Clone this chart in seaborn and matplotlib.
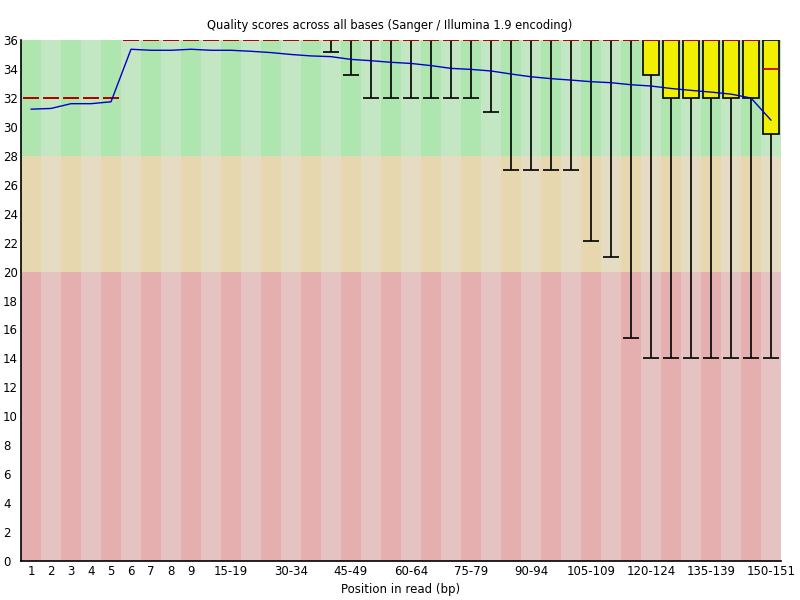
import matplotlib
matplotlib.use("Agg")
import matplotlib.pyplot as plt
import seaborn as sns
import numpy as np
import pandas as pd

sns.set_theme(style="white")
plt.rcParams['font.family'] = ['DejaVu Sans']
plt.rcParams['text.color'] = 'black'
plt.rcParams['xtick.color'] = 'black'
plt.rcParams['ytick.color'] = 'black'

categories = ["1", "2", "3", "4", "5", "6", "7", "8", "9",
              "10-14", "15-19", "20-24", "25-29", "30-34", "35-39", "40-44",
              "45-49", "50-54", "55-59", "60-64", "65-69", "70-74", "75-79",
              "80-84", "85-89", "90-94", "95-99", "100-104", "105-109",
              "110-114", "115-119", "120-124", "125-129", "130-134",
              "135-139", "140-144", "145-149", "150-151"]

mean_q = [31.22, 31.27, 31.6, 31.6, 31.73, 35.36, 35.29, 35.29, 35.36, 35.29,
          35.29, 35.22, 35.13, 35.0, 34.9, 34.85, 34.66, 34.57, 34.46, 34.38,
          34.23, 34.04, 33.97, 33.86, 33.65, 33.46, 33.33, 33.23, 33.12, 33.05,
          32.91, 32.82, 32.65, 32.52, 32.4, 32.26, 31.99, 30.46]
median_q = [32] * 5 + [36] * 32 + [34]
lower_quartile = [32] * 5 + [36] * 26 + [33.6, 32, 32, 32, 32, 32, 29.5]
upper_quartile = [32] * 5 + [36] * 33
pct10 = ([32] * 5 + [36] * 10 + [35.2, 33.6] + [32] * 6 + [31] +
         [27] * 4 + [22.1, 21.0, 15.4] + [14] * 7)
pct90 = [32] * 5 + [36] * 33

title = "Quality scores across all bases (Sanger / Illumina 1.9 encoding)"
xlabel = "Position in read (bp)"

n = len(categories)
pos = np.arange(n)
df = pd.DataFrame({"pos": pos, "mean": mean_q, "median": median_q,
                   "q1": lower_quartile, "q3": upper_quartile,
                   "p10": pct10, "p90": pct90})

GOOD = (195/255, 230/255, 195/255)
GOOD_D = (175/255, 230/255, 175/255)
BAD = (230/255, 220/255, 195/255)
BAD_D = (230/255, 215/255, 175/255)
UGLY = (230/255, 195/255, 195/255)
UGLY_D = (230/255, 175/255, 175/255)

fig = plt.figure(figsize=(8, 6), dpi=100)
ax = fig.add_axes([21/800, 39/600, 760/800, 521/600])

# background stripes
dark = pos % 2 == 0
ax.bar(pos, 20, bottom=0, width=1.0, linewidth=0,
       color=[UGLY_D if d else UGLY for d in dark], zorder=0)
ax.bar(pos, 8, bottom=20, width=1.0, linewidth=0,
       color=[BAD_D if d else BAD for d in dark], zorder=0)
ax.bar(pos, 8, bottom=28, width=1.0, linewidth=0,
       color=[GOOD_D if d else GOOD for d in dark], zorder=0)

# whiskers
ax.vlines(df["pos"], df["p10"], df["q1"], color="black", lw=1.2, zorder=2)
ax.vlines(df["pos"], df["q3"], df["p90"], color="black", lw=1.2, zorder=2)
ax.hlines(df["p10"], df["pos"] - 0.4, df["pos"] + 0.4, color="black", lw=1.2, zorder=2)
ax.hlines(df["p90"], df["pos"] - 0.4, df["pos"] + 0.4, color="black", lw=1.2, zorder=2)

# boxes
ax.bar(df["pos"], df["q3"] - df["q1"], bottom=df["q1"], width=0.8,
       color=(240/255, 240/255, 0), edgecolor="black", linewidth=1.2, zorder=3)

# medians
ax.hlines(df["median"], df["pos"] - 0.41, df["pos"] + 0.41,
          color=(200/255, 0, 0), lw=1.3, zorder=4)

# mean line
sns.lineplot(data=df, x="pos", y="mean", color=(0, 0, 200/255), lw=1.0,
             ax=ax, zorder=5)

ax.set_xlim(-0.5, n - 0.5)
ax.set_ylim(0, 36)

tick_idx = list(range(9)) + list(range(10, n, 3))
ax.set_xticks(tick_idx)
ax.set_xticklabels([categories[i] for i in tick_idx], fontsize=8.5)
ax.set_yticks(range(0, 37, 2))
ax.set_yticklabels([str(v) for v in range(0, 37, 2)], fontsize=8.5, ha="left")
ax.tick_params(axis="both", length=0, colors="black")
ax.tick_params(axis="y", pad=13)
ax.tick_params(axis="x", pad=3)
ax.set_xlabel("")
ax.set_ylabel("")

for s in ["top", "right"]:
    ax.spines[s].set_visible(False)
for s in ["left", "bottom"]:
    ax.spines[s].set_color("black")
    ax.spines[s].set_linewidth(1.2)
    ax.spines[s].set_zorder(6)

fig.text(389.5/800, 1 - 26/600, title, ha="center", va="center",
         fontsize=8.3, color="black")
fig.text(401/800, 1 - 590/600, xlabel, ha="center", va="center",
         fontsize=8.5, color="black")

fig.savefig("out.png", dpi=100, facecolor="white")
